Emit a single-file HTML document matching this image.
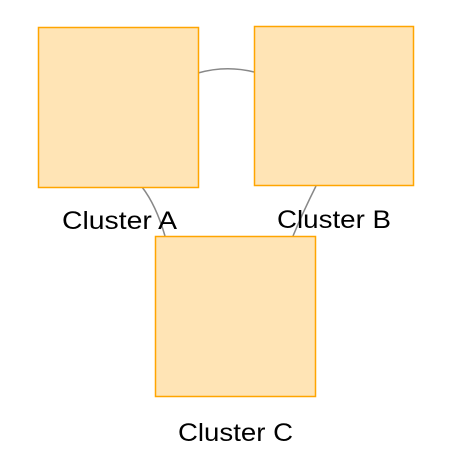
<!DOCTYPE html>
<html><head><meta charset="utf-8"><style>
html,body{margin:0;padding:0;background:#fff;}
svg{display:block;}
text{font-family:"Liberation Sans",Arial,sans-serif;font-size:25px;fill:#000;}
</style></head><body>
<svg width="458" height="476" viewBox="0 0 458 476">
<g fill="none" stroke="#888" stroke-width="1.5">
<path d="M198,73 Q226,65 254,72"/>
<path d="M142,187 Q156,205 165,236"/>
<path d="M316,186 Q303,212 293,236"/>
</g>
<g fill="#ffe4b5" stroke="#ffa500" stroke-width="1.5">
<rect x="38.5" y="27.5" width="160" height="160"/>
<rect x="254.5" y="26.5" width="159" height="159"/>
<rect x="155.5" y="236.5" width="160" height="160"/>
</g>
<text x="62" y="229" textLength="115" lengthAdjust="spacingAndGlyphs">Cluster A</text>
<text x="277" y="228" textLength="114" lengthAdjust="spacingAndGlyphs">Cluster B</text>
<text x="178" y="441" textLength="115" lengthAdjust="spacingAndGlyphs">Cluster C</text>
</svg>
</body></html>
